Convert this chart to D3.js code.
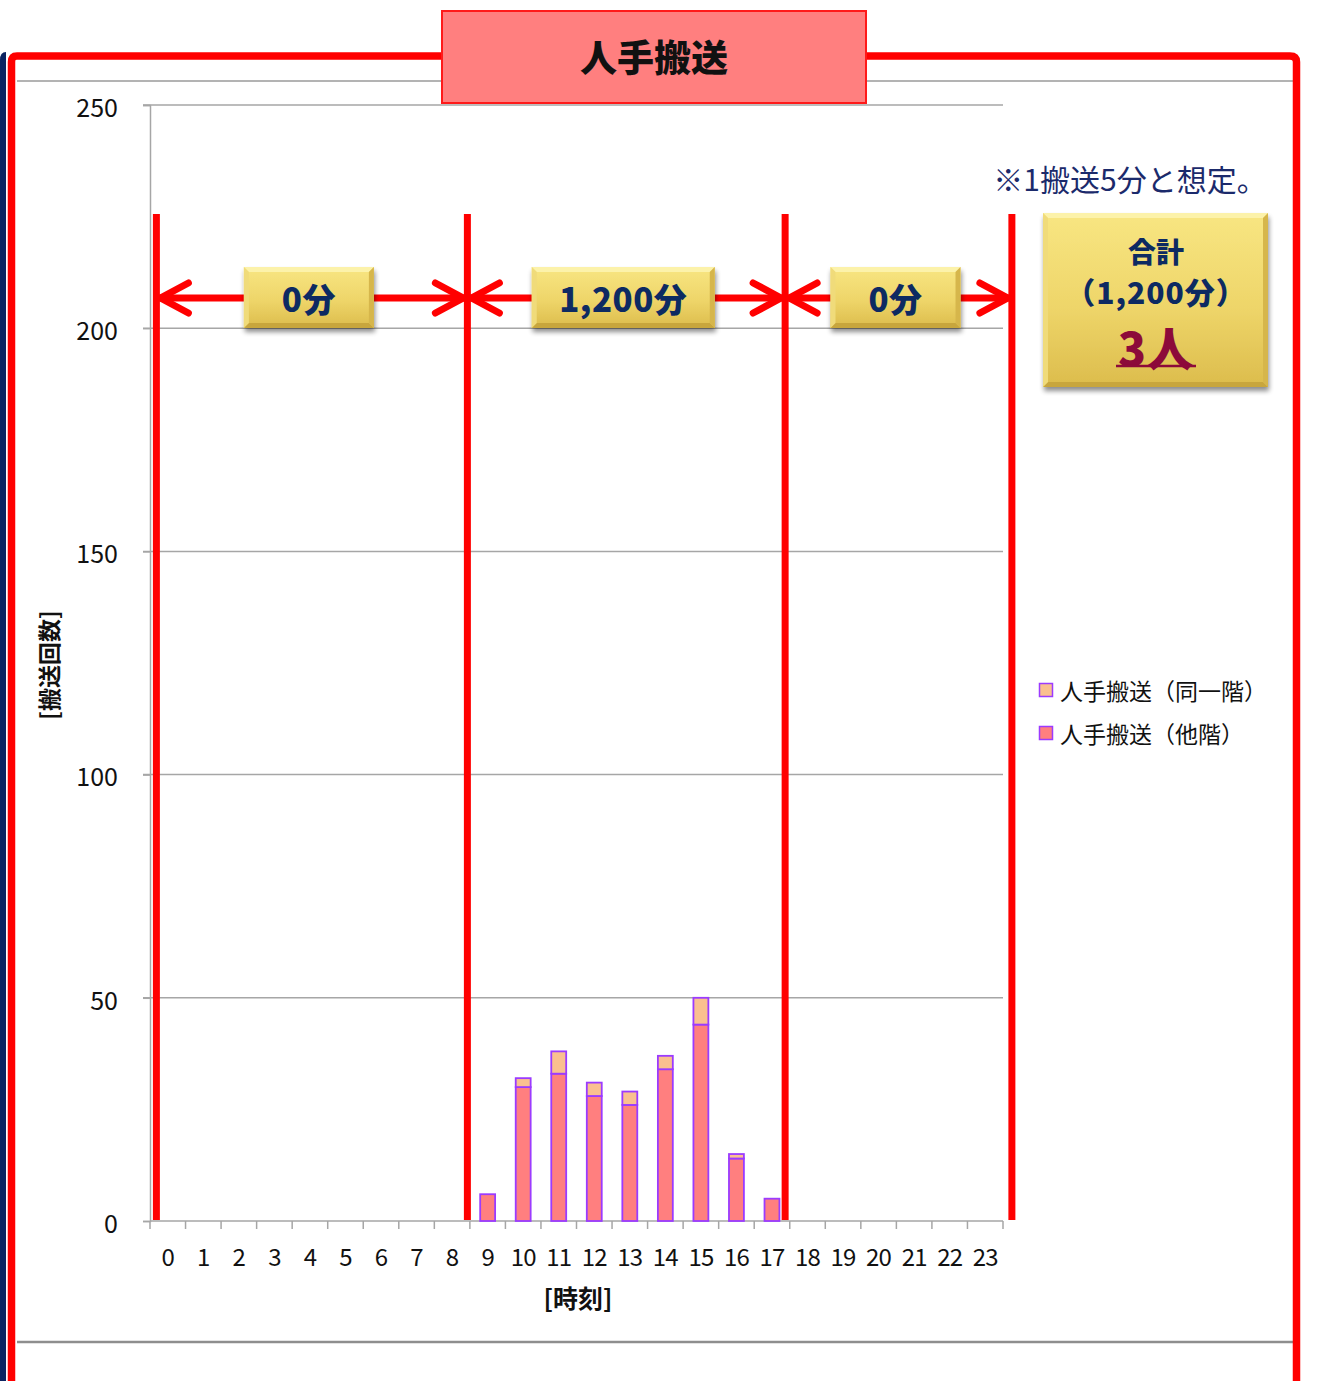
<!DOCTYPE html>
<html>
<head>
<meta charset="utf-8">
<script src="https://cdn.jsdelivr.net/npm/d3@7"></script>
<style>
  html, body { margin: 0; padding: 0; background: #ffffff; }
  svg { display: block; font-family: "Noto Sans CJK JP", "Noto Sans", sans-serif; }
</style>
</head>
<body>
<svg id="chart" width="1341" height="1381"></svg>
<script>
// Hours of the day (category axis)
const hours = ["0","1","2","3","4","5","6","7","8","9","10","11","12","13","14","15","16","17","18","19","20","21","22","23"];
// Manual transports to another floor, per hour
const otherFloor = [0,0,0,0,0,0,0,0,0,6,30,33,28,26,34,44,14,5,0,0,0,0,0,0];
// Manual transports on the same floor, per hour
const sameFloor  = [0,0,0,0,0,0,0,0,0,0,2,5,3,3,3,6,1,0,0,0,0,0,0,0];
// Series names for the legend
const seriesNames = ["人手搬送（同一階）", "人手搬送（他階）"];
// Y axis ticks
const yTicks = [0, 50, 100, 150, 200, 250];
// Shift segment labels and the summary box text
const segmentLabels = ["0分", "1,200分", "0分"];
const totalLines = ["合計", "（1,200分）", "3人"];
const noteText = "※1搬送5分と想定。";
const titleText = "人手搬送";

const svg = d3.select("#chart");
const defs = svg.append("defs");

// gold gradient for the labelled boxes
const g1 = defs.append("linearGradient").attr("id", "gold").attr("x1", 0).attr("y1", 0).attr("x2", 0).attr("y2", 1);
g1.append("stop").attr("offset", "0%").attr("stop-color", "#f8e682");
g1.append("stop").attr("offset", "55%").attr("stop-color", "#eed569");
g1.append("stop").attr("offset", "100%").attr("stop-color", "#dcbc4c");
const sh = defs.append("filter").attr("id", "shadow").attr("x", "-10%").attr("y", "-10%").attr("width", "130%").attr("height", "140%");
sh.append("feGaussianBlur").attr("in", "SourceAlpha").attr("stdDeviation", 2.5).attr("result", "b");
sh.append("feOffset").attr("in", "b").attr("dx", 1).attr("dy", 4).attr("result", "o");
sh.append("feComponentTransfer").attr("in", "o").attr("result", "s")
  .append("feFuncA").attr("type", "linear").attr("slope", 0.45);
const mg = sh.append("feMerge");
mg.append("feMergeNode").attr("in", "s");
mg.append("feMergeNode").attr("in", "SourceGraphic");

// ---- outer frame ----
svg.append("path").attr("d", "M0,60 Q0,52 6,52 L6,1381 L0,1381 Z").attr("fill", "#0c2461");
svg.append("line").attr("x1", 17).attr("x2", 1293).attr("y1", 81).attr("y2", 81).attr("stroke", "#9a9a9a").attr("stroke-width", 1.5);
svg.append("line").attr("x1", 17).attr("x2", 1293).attr("y1", 1342).attr("y2", 1342).attr("stroke", "#8e8e8e").attr("stroke-width", 2.5);
svg.append("path")
  .attr("d", "M11.5,1381 L11.5,62 Q11.5,56 17,56 L441,56 M866,56 L1290,56 Q1296.5,56 1296.5,62 L1296.5,1381")
  .attr("fill", "none").attr("stroke", "#ff0000").attr("stroke-width", 7.5);

// ---- scales ----
const plotL = 150, plotR = 1003, plotT = 105, plotB = 1221;
const x = d3.scaleBand().domain(hours).range([plotL, plotR]).paddingInner(0.58).paddingOuter(0.29);
const hourPos = d3.scaleLinear().domain([0, 24]).range([plotL, plotR]);
const y = d3.scaleLinear().domain([0, 250]).range([plotB, plotT]);

// gridlines
svg.append("g").selectAll("line").data(yTicks.filter(d => d > 0)).join("line")
  .attr("x1", plotL - 7).attr("x2", plotR).attr("y1", d => y(d)).attr("y2", d => y(d))
  .attr("stroke", "#a6a6a6").attr("stroke-width", 1.5);

// y axis
const yAxis = svg.append("g").attr("transform", `translate(${plotL},0)`)
  .call(d3.axisLeft(y).tickValues(yTicks).tickSize(7).tickPadding(25));
yAxis.select(".domain").attr("stroke", "#a6a6a6").attr("stroke-width", 1.5);
yAxis.selectAll(".tick line").attr("stroke", "#a6a6a6").attr("stroke-width", 1.5);
yAxis.selectAll("text").attr("font-size", 25).attr("fill", "#111")
  .attr("font-family", "Noto Sans CJK JP").attr("dy", "0.45em");

// x axis (labels centred on bands, ticks on band boundaries)
const xAxis = svg.append("g").attr("transform", `translate(0,${plotB})`)
  .call(d3.axisBottom(x).tickSize(0).tickPadding(28));
xAxis.select(".domain").remove();
xAxis.selectAll("text").attr("font-size", 24).attr("fill", "#111")
  .attr("letter-spacing", "-0.8px").attr("font-family", "Noto Sans CJK JP");
svg.append("line").attr("x1", plotL).attr("x2", plotR).attr("y1", plotB).attr("y2", plotB).attr("stroke", "#a6a6a6").attr("stroke-width", 1.5);
svg.append("g").selectAll("line").data(d3.range(hours.length + 1)).join("line")
  .attr("x1", d => hourPos(d)).attr("x2", d => hourPos(d))
  .attr("y1", plotB).attr("y2", plotB + 8).attr("stroke", "#a6a6a6").attr("stroke-width", 1.5);

// axis titles
svg.append("text").attr("x", 578).attr("y", 1297).attr("text-anchor", "middle").attr("dominant-baseline", "central")
  .attr("font-size", 25).attr("font-weight", 700).attr("fill", "#111").text("[時刻]");
svg.append("text").attr("transform", "translate(48,665) rotate(-90)").attr("text-anchor", "middle").attr("dominant-baseline", "central")
  .attr("font-size", 23).attr("font-weight", 700).attr("fill", "#111").text("[搬送回数]");

// ---- stacked bars ----
const rows = hours.map((h, i) => ({ hour: h, other: otherFloor[i], same: sameFloor[i] }));
const stack = d3.stack().keys(["other", "same"])(rows);
const fills = { other: "#ff7f7f", same: "#fac08f" };
svg.append("g").selectAll("g").data(stack).join("g")
  .attr("fill", d => fills[d.key])
  .selectAll("rect").data(d => d.filter(p => p[1] > p[0])).join("rect")
  .attr("x", d => x(d.data.hour)).attr("width", x.bandwidth())
  .attr("y", d => y(d[1])).attr("height", d => y(d[0]) - y(d[1]))
  .attr("stroke", "#9b3bff").attr("stroke-width", 1.8);

// ---- shift boundaries and arrows ----
const bounds = [0.18, 8.93, 17.87, 24.25].map(h => hourPos(h));
svg.append("g").selectAll("line").data(bounds).join("line")
  .attr("x1", d => d).attr("x2", d => d).attr("y1", 214).attr("y2", 1220)
  .attr("stroke", "#ff0000").attr("stroke-width", 7);

const arrowY = 298;
const arrowG = svg.append("g").attr("stroke", "#ff0000").attr("stroke-width", 7).attr("stroke-linecap", "round").attr("stroke-linejoin", "round").attr("fill", "none");
d3.range(3).forEach(i => {
  const a = bounds[i] + 4, b = bounds[i + 1] - 4;
  arrowG.append("line").attr("x1", a).attr("x2", b).attr("y1", arrowY).attr("y2", arrowY);
  arrowG.append("path").attr("d", `M${a + 28},${arrowY - 15} L${a},${arrowY} L${a + 28},${arrowY + 15}`);
  arrowG.append("path").attr("d", `M${b - 28},${arrowY - 15} L${b},${arrowY} L${b - 28},${arrowY + 15}`);
});

// bevelled gold box
function goldBox(x0, y0, w, h) {
  const x1 = x0 + w, y1 = y0 + h, b = 5;
  const g = svg.append("g").attr("filter", "url(#shadow)");
  g.append("rect").attr("x", x0).attr("y", y0).attr("width", w).attr("height", h).attr("fill", "url(#gold)");
  const poly = (pts, c) => g.append("polygon").attr("points", pts.map(p => p.join(",")).join(" ")).attr("fill", c);
  poly([[x0, y0], [x1, y0], [x1 - b, y0 + b], [x0 + b, y0 + b]], "#fcf2aa");
  poly([[x0, y1], [x1, y1], [x1 - b, y1 - b], [x0 + b, y1 - b]], "#c8a63e");
  poly([[x0, y0], [x0 + b, y0 + b], [x0 + b, y1 - b], [x0, y1]], "#f0db7a");
  poly([[x1, y0], [x1 - b, y0 + b], [x1 - b, y1 - b], [x1, y1]], "#d6b64c");
  return g;
}

const segW = [130, 183, 130];
segmentLabels.forEach((lab, i) => {
  const cx = (bounds[i] + bounds[i + 1]) / 2 - 3;
  goldBox(cx - segW[i] / 2, 267, segW[i], 61);
  svg.append("text").attr("x", cx).attr("y", 298).attr("text-anchor", "middle").attr("dominant-baseline", "central")
    .attr("font-size", 33).attr("font-weight", 900).attr("fill", "#0d2a62").attr("letter-spacing", "0.5px").text(lab);
});

// summary box
goldBox(1043, 213, 225, 174);
svg.append("text").attr("x", 1156).attr("y", 251).attr("text-anchor", "middle").attr("dominant-baseline", "central")
  .attr("font-size", 28).attr("font-weight", 900).attr("fill", "#0d2a62").text(totalLines[0]);
svg.append("text").attr("x", 1156).attr("y", 291).attr("text-anchor", "middle").attr("dominant-baseline", "central")
  .attr("font-size", 30).attr("font-weight", 900).attr("fill", "#0d2a62").attr("letter-spacing", "1px").text(totalLines[1]);
svg.append("text").attr("x", 1156).attr("y", 346).attr("text-anchor", "middle").attr("dominant-baseline", "central")
  .attr("font-size", 46).attr("font-weight", 900).attr("fill", "#8c0a3a").attr("letter-spacing", "1px").text(totalLines[2]);
svg.append("line").attr("x1", 1116).attr("x2", 1196).attr("y1", 366).attr("y2", 366).attr("stroke", "#8c0a3a").attr("stroke-width", 2.5);

// note
svg.append("text").attr("x", 1130).attr("y", 178).attr("text-anchor", "middle").attr("dominant-baseline", "central")
  .attr("font-size", 30).attr("fill", "#1b2a6b").text(noteText);

// legend
const legend = svg.append("g");
[["same", 690], ["other", 733]].forEach(([k, ly], i) => {
  legend.append("rect").attr("x", 1039.5).attr("y", ly - 6.5).attr("width", 13).attr("height", 13)
    .attr("fill", fills[k]).attr("stroke", "#9b3bff").attr("stroke-width", 1.5);
  legend.append("text").attr("x", 1060).attr("y", ly).attr("dominant-baseline", "central")
    .attr("font-size", 23).attr("fill", "#111").text(seriesNames[i]);
});

// title box
svg.append("rect").attr("x", 442).attr("y", 11).attr("width", 424).attr("height", 92)
  .attr("fill", "#ff7f7f").attr("stroke", "#ff1a1a").attr("stroke-width", 2);
svg.append("text").attr("x", 654).attr("y", 56).attr("text-anchor", "middle").attr("dominant-baseline", "central")
  .attr("font-size", 37).attr("font-weight", 900).attr("fill", "#111").text(titleText);
</script>
</body>
</html>
